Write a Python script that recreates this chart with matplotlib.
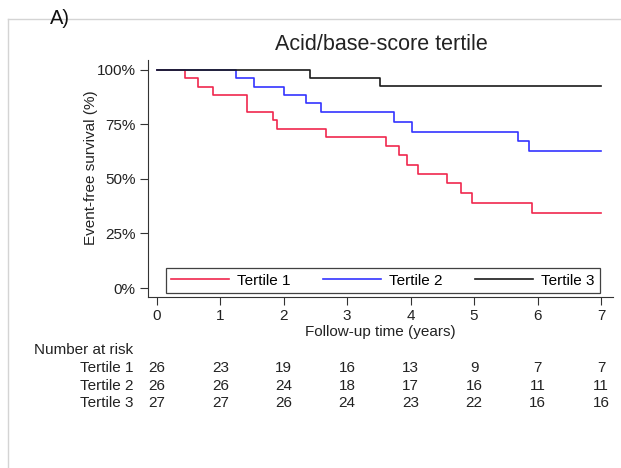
import matplotlib
matplotlib.use("Agg")
import matplotlib.pyplot as plt
from matplotlib.lines import Line2D
from matplotlib.transforms import blended_transform_factory

plt.rcParams['font.family'] = ['Liberation Sans', 'DejaVu Sans']

# ---- data ----
t1_time = [0, 0.44, 0.65, 0.88, 1.42, 1.83, 1.90, 2.67, 3.61, 3.81, 3.94, 4.12, 4.58, 4.80, 4.96, 5.92, 7.0]
t1_surv = [100, 96.2, 92.3, 88.5, 80.8, 77.0, 73.1, 69.2, 65.2, 61.0, 56.6, 52.4, 48.0, 43.5, 39.2, 34.3, 34.3]
t2_time = [0, 1.25, 1.53, 2.01, 2.35, 2.58, 3.74, 4.02, 5.69, 5.86, 7.0]
t2_surv = [100, 96.2, 92.3, 88.5, 84.6, 80.8, 76.3, 71.6, 67.2, 62.7, 62.7]
t3_time = [0, 2.41, 3.52, 7.0]
t3_surv = [100, 96.3, 92.6, 92.6]

series_names = ["Tertile 1", "Tertile 2", "Tertile 3"]
series_colors = ["#f0284e", "#3434ff", "#1a1a1a"]

x_ticks = [0, 1, 2, 3, 4, 5, 6, 7]
y_ticks = [0, 25, 50, 75, 100]
y_tick_labels = ["0%", "25%", "50%", "75%", "100%"]

risk_times = [0, 1, 2, 3, 4, 5, 6, 7]
risk_t1 = [26, 23, 19, 16, 13, 9, 7, 7]
risk_t2 = [26, 26, 24, 18, 17, 16, 11, 11]
risk_t3 = [27, 27, 26, 24, 23, 22, 16, 16]

W, H = 621, 468
fig = plt.figure(figsize=(W / 100, H / 100), dpi=100)
ax = fig.add_axes([148 / W, 1 - 297 / H, 465 / W, 237 / H])

for tt, ss, name, col in zip([t1_time, t2_time, t3_time], [t1_surv, t2_surv, t3_surv],
                             series_names, series_colors):
    ax.step(tt, ss, where='post', color=col, lw=1.2, label=name)

ax.set_xlim(-0.14, 7.19)
ax.set_ylim(-4.1, 104.5)
ax.set_xticks(x_ticks)
ax.set_yticks(y_ticks)
ax.set_yticklabels(y_tick_labels)
ax.tick_params(axis='both', labelsize=11, length=6, width=0.8, color='#333333',
               labelcolor='#222222', pad=3)
for s in ['top', 'right']:
    ax.spines[s].set_visible(False)
for s in ['left', 'bottom']:
    ax.spines[s].set_color('#333333')
    ax.spines[s].set_linewidth(0.8)

ax.set_xlabel("Follow-up time (years)", fontsize=11, labelpad=1, color='#222222')
fig.text(91.5 / W, 1 - 168 / H, "Event-free survival (%)", rotation=90, fontsize=11,
         ha='center', va='center', color='#222222')
fig.text(381 / W, 1 - 44 / H, "Acid/base-score tertile", fontsize=15.5,
         ha='center', va='center', color='#222222')

leg = ax.legend(loc='lower left', bbox_to_anchor=(0.0387, 0.0169, 0.933, 0.114),
                mode='expand', ncol=3, fontsize=11, frameon=True, fancybox=False,
                handlelength=3.8, borderaxespad=0, borderpad=0.35, handletextpad=0.5)
leg.get_frame().set_edgecolor('#111111')
leg.get_frame().set_linewidth(0.9)

# Number at risk table
tr = blended_transform_factory(ax.transData, fig.transFigure)
fig.text(34 / W, 1 - 350 / H, "Number at risk", fontsize=11, ha='left', va='center',
         color='#222222')
row_y = [368, 385.5, 403]
for name, vals, yy in zip(series_names, [risk_t1, risk_t2, risk_t3], row_y):
    fig.text(133 / W, 1 - yy / H, name, fontsize=11, ha='right', va='center', color='#222222')
    for xv, v in zip(risk_times, vals):
        ax.text(xv, 1 - yy / H, str(v), transform=tr, fontsize=11, ha='center',
                va='center', color='#222222')

# outer panel frame
fig.add_artist(Line2D([8 / W, 8 / W], [0, 1 - 19 / H], transform=fig.transFigure,
                      color='#d4d4d4', lw=1.0))
fig.add_artist(Line2D([8 / W, 1], [1 - 19 / H, 1 - 19 / H], transform=fig.transFigure,
                      color='#d4d4d4', lw=1.0))
fig.text(60 / W, 1 - 18 / H, "A)", fontsize=14.5, ha='center', va='center', color='#111111')

fig.savefig("out.png", dpi=100)
